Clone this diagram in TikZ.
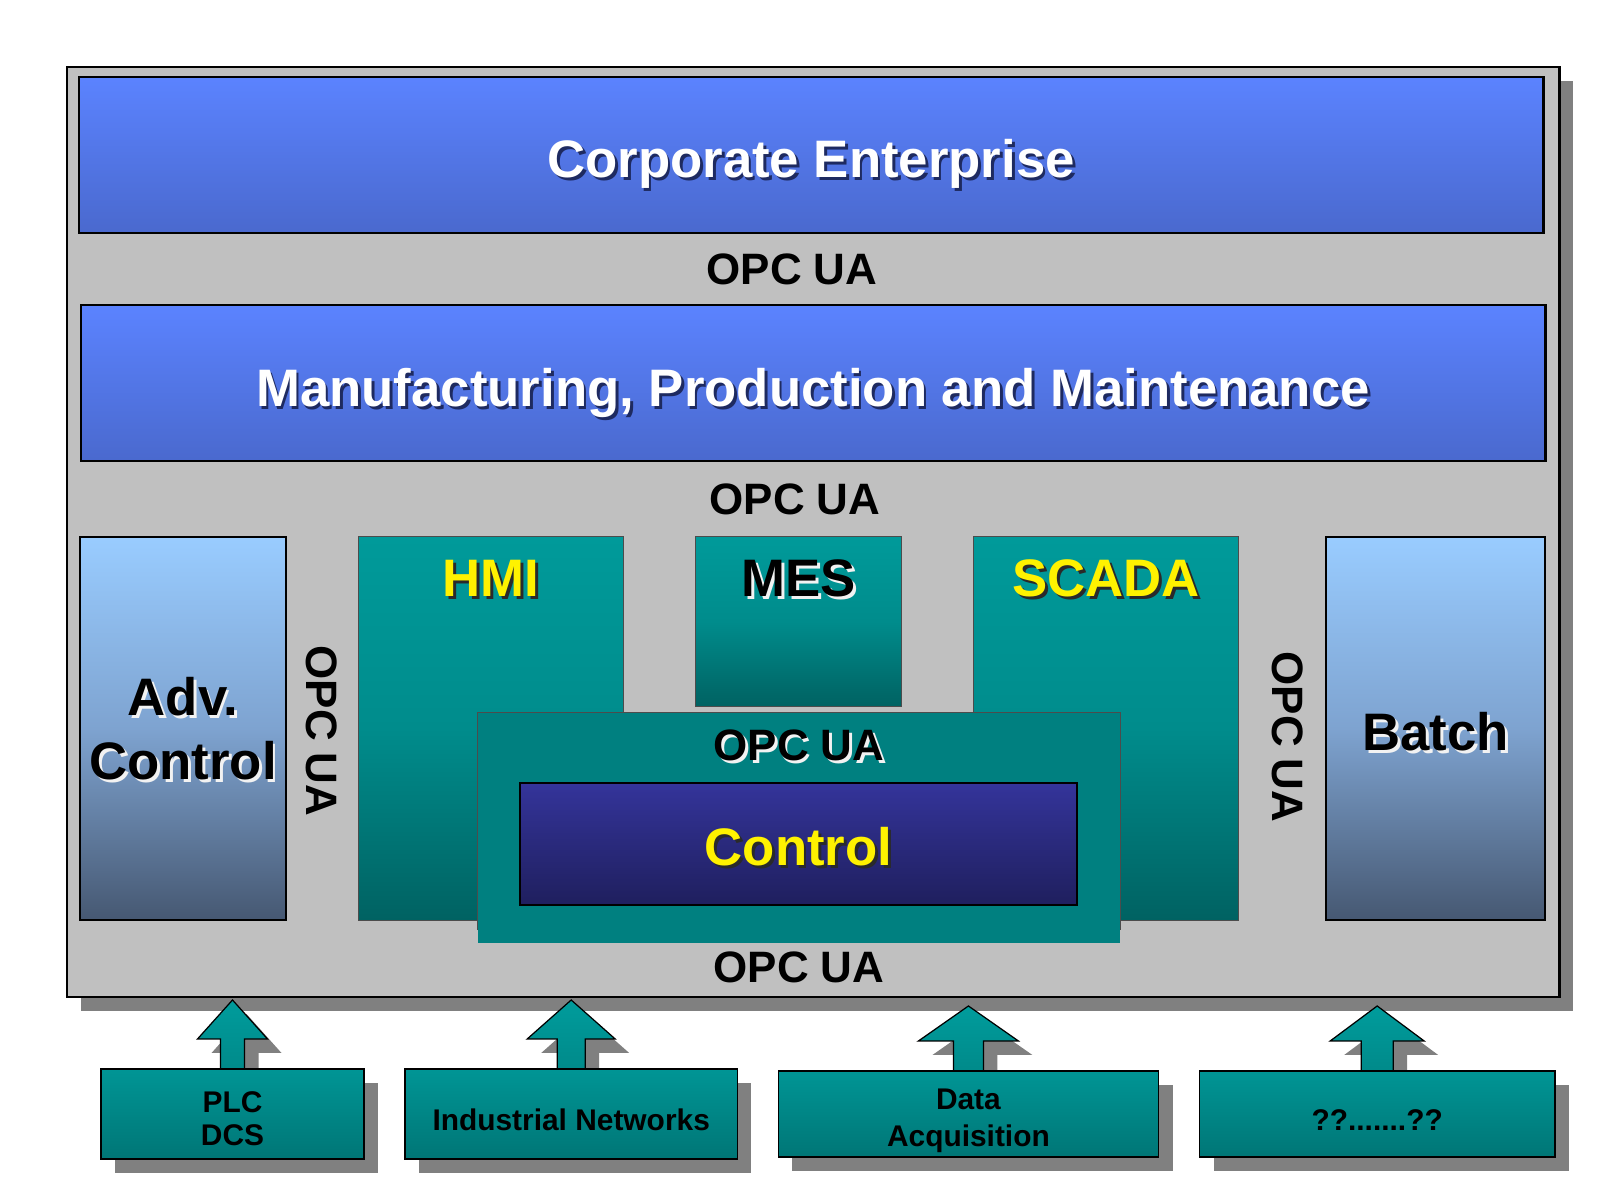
\documentclass[tikz,border=0pt]{standalone}
\usepackage{fontspec}
\setmainfont{Liberation Sans}
\usetikzlibrary{positioning,calc,shadows}

\definecolor{panelgray}{HTML}{C0C0C0}
\definecolor{shadowgray}{HTML}{808080}
\definecolor{bluetop}{HTML}{5B83FF}
\definecolor{bluebot}{HTML}{4A69CE}
\definecolor{blueshade}{HTML}{1E2A60}
\definecolor{darkshade}{HTML}{2A2A2A}
\definecolor{lightshade}{HTML}{F2F2F2}
\definecolor{skytop}{HTML}{99CCFF}
\definecolor{skymid}{HTML}{7EA3D0}
\definecolor{skybot}{HTML}{465872}
\definecolor{tealtop}{HTML}{009A9A}
\definecolor{tealmid}{HTML}{008C8C}
\definecolor{tealbot}{HTML}{006262}
\definecolor{frameteal}{HTML}{008080}
\definecolor{ctrltop}{HTML}{34349A}
\definecolor{ctrlbot}{HTML}{1F1F5E}
\definecolor{lowtop}{HTML}{009595}
\definecolor{lowbot}{HTML}{007676}
\definecolor{arrowtop}{HTML}{009C9C}
\definecolor{arrowbot}{HTML}{008A8A}

\pgfdeclarelayer{front}
\pgfsetlayers{main,front}

% text with a small offset shadow behind it
\newcommand{\txtshadow}[2]{\makebox[0pt][l]{\kern0.8pt\raisebox{-0.8pt}{\textcolor{#1}{#2}}}#2}

\begin{document}
\begin{tikzpicture}[
    x=0.01cm, y=-0.01cm,
    node distance=0.41cm,
    every node/.style={inner sep=0pt, outer sep=0pt, font=\bfseries},
    % Schaduw onder panelen en blokken
    boxshadow/.style={drop shadow={shadow xshift=0.14cm, shadow yshift=-0.14cm, fill=shadowgray, opacity=1}},
    % Brede lagen (boven)
    layerbox/.style={draw=black, line width=0.6pt, top color=bluetop, bottom color=bluebot,
                     minimum width=14.64cm, minimum height=1.56cm, text=white,
                     text height=13.3pt, text depth=0pt,
                     font=\bfseries\fontsize{15}{18}\selectfont},
    % Zijblokken (Adv. Control, Batch)
    sidebox/.style={draw=black, line width=0.6pt, top color=skytop, bottom color=skybot, middle color=skymid,
                    minimum height=3.83cm, align=center, text height=12.5pt, text depth=0pt,
                    font=\bfseries\fontsize{15}{18.4}\selectfont},
    % Applicatieblokken (HMI, MES, SCADA)
    appbox/.style={draw=black!70, line width=0.3pt, top color=tealtop, bottom color=tealbot, middle color=tealmid},
    apptitle/.style={font=\bfseries\fontsize{15}{18}\selectfont},
    opc/.style={font=\bfseries\fontsize{12.5}{15}\selectfont},
    % Bronnen onderaan
    lowbox/.style={boxshadow, draw=black, line width=0.45pt, top color=lowtop, bottom color=lowbot,
                   minimum height=0.9cm, align=center, text height=9.1pt, text depth=0pt,
                   font=\bfseries\fontsize{8.5}{10}\selectfont},
    blockarrow/.style={boxshadow, draw=black, line width=0.35pt, top color=arrowtop, bottom color=arrowbot}
]
\useasboundingbox (0,0) rectangle (1600,1200);

% --- Paneel ---
\node[boxshadow, draw=black, line width=0.6pt, fill=panelgray,
      minimum width=14.92cm, minimum height=9.30cm] (panel) at (813,532) {};

% --- Lagen ---
\node[layerbox] (corp) at (811,154.6) {\txtshadow{blueshade}{Corporate Enterprise}};
\node[opc] (opc1) at (792,269) {OPC UA};
\node[layerbox] (mfg) at (813,383) {\txtshadow{blueshade}{Manufacturing, Production and Maintenance}};
\node[opc] (opc2) at (795,499) {OPC UA};

% --- Zijblokken ---
\node[sidebox, minimum width=2.05cm, text height={}, text depth=-1.5pt] (adv) at (183,728.5)
    {\txtshadow{lightshade}{Adv.}\\\txtshadow{lightshade}{Control}};
\node[opc, rotate=-90] (opcl) at (322,731) {OPC UA};
\node[sidebox, minimum width=2.19cm] (batch) at (1435.5,728.5) {\txtshadow{lightshade}{Batch}};
\node[opc, rotate=-90] (opcr) at (1288,737) {OPC UA};

% --- Applicaties ---
\node[appbox, minimum width=2.64cm, minimum height=3.83cm] (hmi) at (491,728.5) {};
\node[apptitle, text=yellow] (hmititle) at ($(hmi.north)+(0,43)$) {\txtshadow{darkshade}{HMI}};
\node[appbox, minimum width=2.05cm, minimum height=1.69cm] (mes) at (798.5,621.5) {};
\node[apptitle] (mestitle) at ($(mes.north)+(0,43)$) {\txtshadow{lightshade}{MES}};
\node[appbox, minimum width=2.64cm, minimum height=3.83cm] (scada) at (1106,728.5) {};
\node[apptitle, text=yellow] (scadatitle) at ($(scada.north)+(0,43)$) {\txtshadow{darkshade}{SCADA}};

% --- Control ---
\node[fill=frameteal,
      drop shadow={shadow xshift=0cm, shadow yshift=-0.13cm, fill=frameteal, opacity=1},
      minimum width=6.42cm, minimum height=2.17cm] (frame) at (799,821.5) {};
\draw[black!70, line width=0.3pt] (frame.south west) -- (frame.north west) -- (frame.north east) -- (frame.south east);
\node[opc] (opc3) at (799,747) {\txtshadow{lightshade}{OPC UA}};
\node[apptitle, draw=black, line width=0.6pt, top color=ctrltop, bottom color=ctrlbot, text=yellow,
      text height=12.4pt, text depth=0pt,
      minimum width=5.57cm, minimum height=1.22cm] (ctrl) at (798.5,844) {\txtshadow{darkshade}{Control}};
\node[opc] (opc4) at (799,967) {OPC UA};

% --- Bronnen ---
\begin{pgfonlayer}{front}
\node[lowbox, minimum width=2.63cm, text height=18pt, text depth=0pt,
      font=\bfseries\fontsize{8.5}{9.4}\selectfont] (plc) at (232.5,1114) {PLC\\DCS};
\node[lowbox, minimum width=3.32cm, right=of plc] (net) {Industrial Networks};
\node[lowbox, minimum width=3.80cm, minimum height=0.86cm, right=of net, text height=18.4pt, text depth=0pt,
      font=\bfseries\fontsize{8.5}{10.4}\selectfont] (daq) {Data\\Acquisition};
\node[lowbox, minimum width=3.55cm, minimum height=0.86cm, right=of daq] (other) {??.......??};
\end{pgfonlayer}

% --- Pijlen naar het paneel ---
\draw[blockarrow] ($(plc.north)+(-12,0)$) -- ($(plc.north)+(-12,-30)$) -- ($(plc.north)+(-35,-30)$)
    -- ($(plc.north)+(0,-69)$) -- ($(plc.north)+(35,-30)$) -- ($(plc.north)+(12,-30)$) -- ($(plc.north)+(12,0)$);
\draw[blockarrow] ($(net.north)+(-14,0)$) -- ($(net.north)+(-14,-30)$) -- ($(net.north)+(-44,-30)$)
    -- ($(net.north)+(0,-69)$) -- ($(net.north)+(44,-30)$) -- ($(net.north)+(14,-30)$) -- ($(net.north)+(14,0)$);
\draw[blockarrow] ($(daq.north)+(-15,0)$) -- ($(daq.north)+(-15,-30)$) -- ($(daq.north)+(-50,-30)$)
    -- ($(daq.north)+(0,-65)$) -- ($(daq.north)+(50,-30)$) -- ($(daq.north)+(15,-30)$) -- ($(daq.north)+(15,0)$);
\draw[blockarrow] ($(other.north)+(-16,0)$) -- ($(other.north)+(-16,-30)$) -- ($(other.north)+(-47,-30)$)
    -- ($(other.north)+(0,-65)$) -- ($(other.north)+(47,-30)$) -- ($(other.north)+(16,-30)$) -- ($(other.north)+(16,0)$);

\end{tikzpicture}
\end{document}
